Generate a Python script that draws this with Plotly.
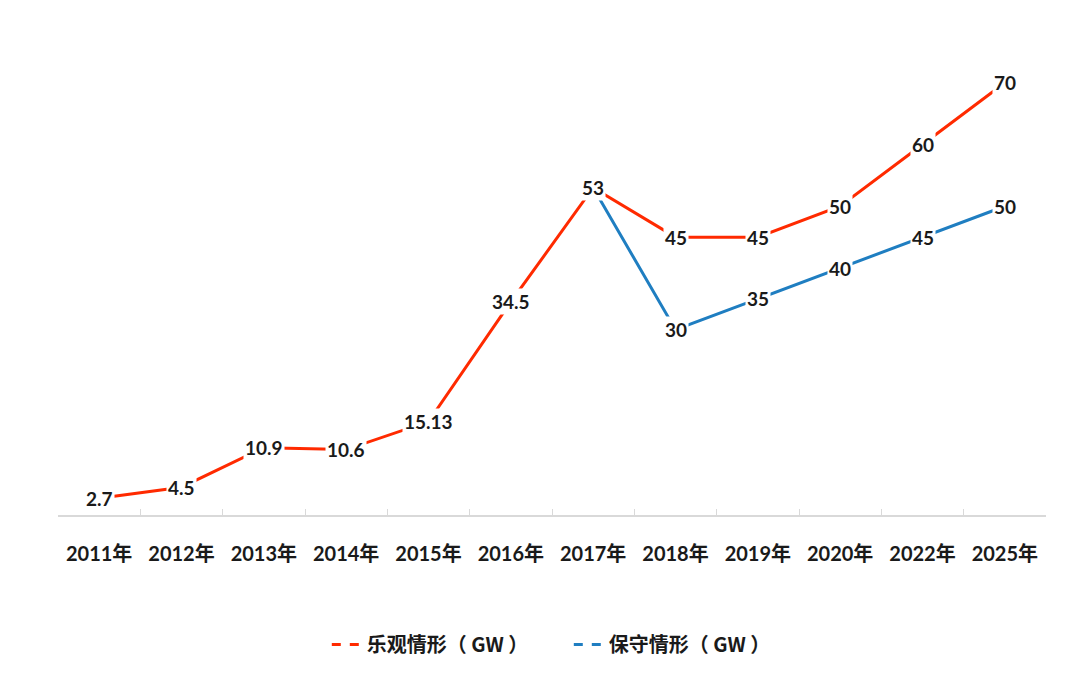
import plotly.graph_objects as go

categories = ["2011年", "2012年", "2013年", "2014年", "2015年", "2016年",
              "2017年", "2018年", "2019年", "2020年", "2022年", "2025年"]
optimistic = [2.7, 4.5, 10.9, 10.6, 15.13, 34.5, 53, 45, 45, 50, 60, 70]
conservative_cats = ["2017年", "2018年", "2019年", "2020年", "2022年", "2025年"]
conservative = [53, 30, 35, 40, 45, 50]
opt_labels = ["2.7", "4.5", "10.9", "10.6", "15.13", "34.5", "53", "45", "45", "50", "60", "70"]
con_labels = ["30", "35", "40", "45", "50"]

RED = "#FF2A00"
BLUE = "#1F7EC1"
FONT = "Lato, 'Noto Sans CJK SC', sans-serif"

fig = go.Figure()
fig.add_trace(go.Scatter(x=categories, y=optimistic, mode="lines",
                         line=dict(color=RED, width=3), showlegend=False, hoverinfo="skip"))
fig.add_trace(go.Scatter(x=conservative_cats, y=conservative, mode="lines",
                         line=dict(color=BLUE, width=3), showlegend=False, hoverinfo="skip"))
# legend-only entries
fig.add_trace(go.Scatter(x=[None], y=[None], mode="lines", name="乐观情形（ GW ）",
                         line=dict(color=RED, width=3, dash="dash")))
fig.add_trace(go.Scatter(x=[None], y=[None], mode="lines", name="保守情形（ GW ）",
                         line=dict(color=BLUE, width=3, dash="dash")))

for c, v, t in zip(categories, optimistic, opt_labels):
    fig.add_annotation(x=c, y=v, text=f"<b>{t}</b>", showarrow=False,
                       bgcolor="white", borderpad=1,
                       font=dict(family=FONT, size=19, color="#1a1a1a"))
for c, v, t in zip(conservative_cats[1:], conservative[1:], con_labels):
    fig.add_annotation(x=c, y=v, text=f"<b>{t}</b>", showarrow=False,
                       bgcolor="white", borderpad=1,
                       font=dict(family=FONT, size=19, color="#1a1a1a"))

fig.update_layout(
    width=1080, height=679,
    paper_bgcolor="white", plot_bgcolor="white",
    margin=dict(l=50, r=42, t=13, b=172),
    font=dict(family=FONT, color="#1a1a1a"),
    legend=dict(orientation="h", x=0.517, xanchor="center", y=-0.262, yanchor="middle",
                font=dict(family="'Noto Sans CJK SC', sans-serif", size=20, color="#1a1a1a", weight="bold"),
                itemwidth=30, entrywidth=197, entrywidthmode="pixels", traceorder="normal"),
    xaxis=dict(type="category", categoryorder="array", categoryarray=categories,
               showgrid=False, showline=True, linecolor="#d9d9d9", linewidth=1.5,
               ticks="inside", tickson="boundaries", ticklen=6, tickcolor="#d9d9d9",
               ticklabelstandoff=20,
               tickfont=dict(family=FONT, size=20, color="#1a1a1a", weight="bold"),
               range=[-0.5, 11.5], zeroline=False),
    yaxis=dict(range=[0, 80], visible=False, showgrid=False, zeroline=False),
)

fig.write_html("out.html")
